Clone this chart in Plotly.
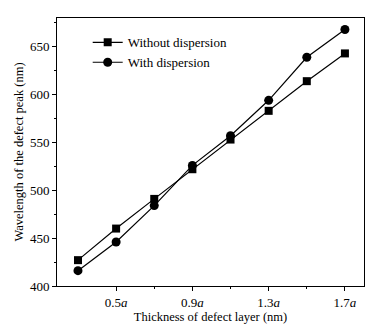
import plotly.graph_objects as go

thickness = [0.3, 0.5, 0.7, 0.9, 1.1, 1.3, 1.5, 1.7]
without_disp = [427, 460, 491, 522, 553, 583, 614, 643]
with_disp = [416, 446, 484, 526, 557, 594, 639, 668]
xtick_vals = [0.5, 0.9, 1.3, 1.7]
xtick_text = ["0.5<i>a</i>", "0.9<i>a</i>", "1.3<i>a</i>", "1.7<i>a</i>"]

font = "Liberation Serif, Times New Roman, serif"

fig = go.Figure()
fig.add_trace(go.Scatter(x=thickness, y=without_disp, mode="lines+markers",
                         name="Without dispersion",
                         line=dict(color="black", width=1.2),
                         marker=dict(symbol="square", size=8, color="black")))
fig.add_trace(go.Scatter(x=thickness, y=with_disp, mode="lines+markers",
                         name="With dispersion",
                         line=dict(color="black", width=1.2),
                         marker=dict(symbol="circle", size=9, color="black")))

fig.update_layout(
    width=380, height=333,
    margin=dict(l=57, r=16, t=18, b=41),
    paper_bgcolor="white", plot_bgcolor="white",
    font=dict(family=font, size=13, color="black"),
    showlegend=True,
    legend=dict(x=0.1, y=0.965, xanchor="left", yanchor="top",
                bgcolor="rgba(0,0,0,0)", font=dict(size=13, family=font),
                itemwidth=30, tracegroupgap=0),
    xaxis=dict(range=[0.19, 1.8], tickvals=xtick_vals, ticktext=xtick_text,
               showgrid=False, zeroline=False, showline=True, linecolor="black",
               linewidth=1, mirror=True, ticks="outside", ticklen=4,
               tickcolor="black", tickfont=dict(size=13),
               minor=dict(tickvals=[0.7, 1.1, 1.5], ticks="outside", ticklen=2,
                          tickcolor="black"),
               title=dict(text="Thickness of defect layer (nm)", standoff=3,
                          font=dict(size=12.5, family=font))),
    yaxis=dict(range=[400, 680], tickvals=[400, 450, 500, 550, 600, 650],
               showgrid=False, zeroline=False, showline=True, linecolor="black",
               linewidth=1, mirror=True, ticks="outside", ticklen=4,
               tickcolor="black", tickfont=dict(size=13),
               minor=dict(tickvals=[425, 475, 525, 575, 625, 675], ticks="outside",
                          ticklen=2, tickcolor="black"),
               title=dict(text="Wavelength of the defect peak (nm)", standoff=3,
                          font=dict(size=12.5, family=font))),
)

fig.write_html("out.html")
